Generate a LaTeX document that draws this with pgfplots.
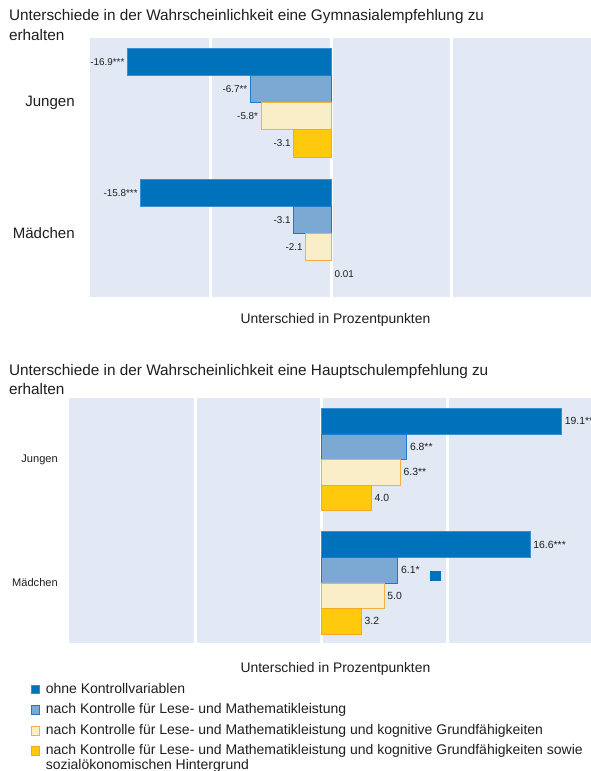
\documentclass[border=0pt]{standalone}
\usepackage{fontspec}
\setmainfont{Liberation Sans}
\usepackage{pgfplots}
\pgfplotsset{compat=1.18}

\definecolor{txt}{HTML}{1E1E1E}
\definecolor{bgblue}{HTML}{E2E9F4}
\definecolor{ohne}{HTML}{0072BC}
\definecolor{ohneb}{HTML}{3A8ED2}
\definecolor{lm}{HTML}{7BA9D4}
\definecolor{lmb}{HTML}{1C7CCB}
\definecolor{kog}{HTML}{FAEEC8}
\definecolor{kogb}{HTML}{F7B040}
\definecolor{soz}{HTML}{FFC90D}
\definecolor{sozb}{HTML}{F7A823}

\pgfplotsset{
  bandchart/.style={
    xbar, scale only axis, clip=false,
    xmin=-20, xmax=22,
    ytick={0,1}, yticklabels={Mädchen,Jungen},
    xtick={-10,0,10}, xticklabels={},
    xmajorgrids, grid style={white, line width=2.25pt},
    axis line style={draw=none}, major tick length=0pt,
    axis background/.style={fill=bgblue},
    point meta=explicit symbolic,
    nodes near coords,
    yticklabel style={inner sep=0pt, text=txt},
  },
}

\begin{document}
\begin{tikzpicture}

% --- Gymnasialempfehlung
\node[anchor=base west, text=txt, inner sep=0pt, font=\fontsize{11.5}{14}\selectfont]
  at (6.6pt,-15.75pt) {Unterschiede in der Wahrscheinlichkeit eine Gymnasialempfehlung zu};
\node[anchor=base west, text=txt, inner sep=0pt, font=\fontsize{11.5}{14}\selectfont]
  at (6.6pt,-30.5pt) {erhalten};

\begin{axis}[bandchart,
    at={(67.5pt,-28.5pt)}, anchor=north west,
    width=379.6pt, height=194.25pt,
    ymin=-0.4847, ymax=1.4924,
    bar width=20.4pt,
    yticklabel style={font=\fontsize{11.3}{13}\selectfont, xshift=-11.25pt},
    every node near coord/.append style={font=\fontsize{7.4}{8}\selectfont, text=txt, inner sep=2pt, anchor=east},
]
\addplot[fill=ohne, draw=ohneb, line width=0.5pt, bar shift=30.66pt]
  coordinates {(-16.9,1) [-16.9***] (-15.8,0) [-15.8***]};
\addplot[fill=lm, draw=lmb, line width=0.6pt, bar shift=10.22pt]
  coordinates {(-6.7,1) [-6.7**] (-3.1,0) [-3.1]};
\addplot[fill=kog, draw=kogb, line width=0.6pt, bar shift=-10.22pt]
  coordinates {(-5.8,1) [-5.8*] (-2.1,0) [-2.1]};
\addplot[fill=soz, draw=sozb, line width=0.6pt, bar shift=-30.66pt]
  coordinates {(-3.1,1) [-3.1]};
\addplot[fill=none, draw=none, bar shift=-30.66pt,
    every node near coord/.append style={anchor=west, inner sep=2.5pt}]
  coordinates {(0.01,0) [0.01]};
\end{axis}

\node[anchor=base, text=txt, inner sep=0pt, font=\fontsize{10.4}{12}\selectfont]
  at (251.6pt,-242.5pt) {Unterschied in Prozentpunkten};

% --- Hauptschulempfehlung
\node[anchor=base west, text=txt, inner sep=0pt, font=\fontsize{11.5}{14}\selectfont]
  at (6.6pt,-281.25pt) {Unterschiede in der Wahrscheinlichkeit eine Hauptschulempfehlung zu};
\node[anchor=base west, text=txt, inner sep=0pt, font=\fontsize{11.5}{14}\selectfont]
  at (6.6pt,-295.9pt) {erhalten};

\begin{axis}[bandchart,
    at={(51.75pt,-298.5pt)}, anchor=north west,
    width=396.9pt, height=183.75pt,
    ymin=-0.486, ymax=1.498,
    bar width=19.2pt,
    yticklabel style={font=\fontsize{8.3}{10}\selectfont, xshift=-8.25pt},
    every node near coord/.append style={font=\fontsize{7.8}{9}\selectfont, text=txt, inner sep=2.2pt, anchor=west},
    legend cell align=left,
    legend style={at={(-0.0724,-0.160)}, anchor=north west, draw=none, fill=none,
      inner sep=0pt, row sep=4.9pt, column sep=4.25pt,
      nodes={inner sep=0pt, text=txt, text height=8pt, text depth=2.5pt,
             font=\fontsize{10.5}{12}\selectfont}},
    legend image code/.code={\draw[#1, line width=0.6pt] (0pt,-3.3pt) rectangle (6.3pt,3.3pt);},
]
\addplot[fill=ohne, draw=ohneb, line width=0.5pt, bar shift=28.8pt]
  coordinates {(19.1,1) [19.1***] (16.6,0) [16.6***]};
\addlegendentry{ohne Kontrollvariablen}
\addplot[fill=lm, draw=lmb, line width=0.6pt, bar shift=9.6pt]
  coordinates {(6.8,1) [6.8**] (6.1,0) [6.1*]};
\addlegendentry{nach Kontrolle für Lese- und Mathematikleistung}
\addplot[fill=kog, draw=kogb, line width=0.6pt, bar shift=-9.6pt]
  coordinates {(6.3,1) [6.3**] (5.0,0) [5.0]};
\addlegendentry{nach Kontrolle für Lese- und Mathematikleistung und kognitive Grundfähigkeiten}
\addplot[fill=soz, draw=sozb, line width=0.6pt, bar shift=-28.8pt]
  coordinates {(4.0,1) [4.0] (3.2,0) [3.2]};
\addlegendentry{\parbox[t]{430pt}{\fontsize{10.5}{8.8}\selectfont nach Kontrolle für Lese- und Mathematikleistung und kognitive Grundfähigkeiten sowie\\sozialökonomischen Hintergrund}}
% stray marker in the source image
\addplot[only marks, mark=square*, mark size=3.6pt, color=ohne, nodes near coords={}, forget plot]
  coordinates {(9.05,0.057) []};
\end{axis}

\node[anchor=base, text=txt, inner sep=0pt, font=\fontsize{10.4}{12}\selectfont]
  at (251.6pt,-504.5pt) {Unterschied in Prozentpunkten};

\pgfresetboundingbox
\path[use as bounding box] (0,0) rectangle (442.5pt,-578.25pt);
\end{tikzpicture}
\end{document}
